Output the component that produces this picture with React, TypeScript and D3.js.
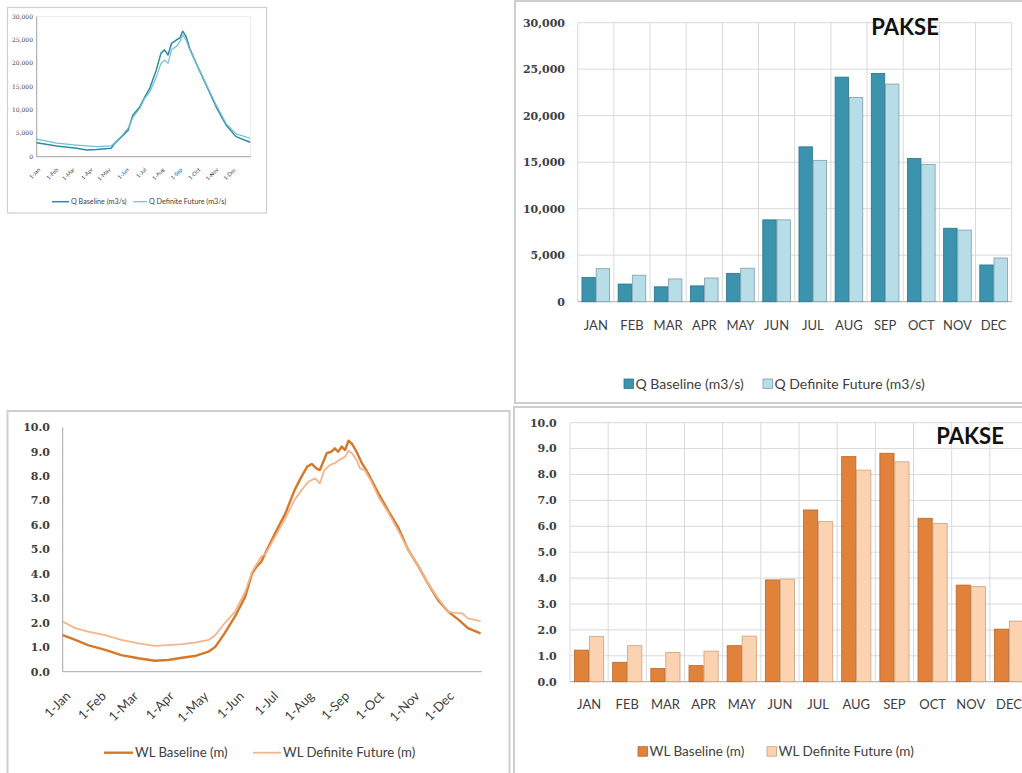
import React from "react";
import * as d3 from "d3";

// ---------- DATA ----------
const MONTHS = ["JAN", "FEB", "MAR", "APR", "MAY", "JUN", "JUL", "AUG", "SEP", "OCT", "NOV", "DEC"];

const Q_BASELINE_MONTHLY = [2600, 1900, 1600, 1700, 3050, 8800, 16650, 24150, 24550, 15400, 7900, 3950];
const Q_FUTURE_MONTHLY = [3550, 2850, 2450, 2550, 3600, 8800, 15200, 21950, 23400, 14750, 7700, 4700];

const WL_BASELINE_MONTHLY = [1.22, 0.75, 0.51, 0.62, 1.39, 3.93, 6.63, 8.69, 8.82, 6.31, 3.73, 2.03];
const WL_FUTURE_MONTHLY = [1.74, 1.39, 1.13, 1.18, 1.76, 3.96, 6.18, 8.17, 8.49, 6.11, 3.67, 2.34];

const Q_TICKS = [0, 5000, 10000, 15000, 20000, 25000, 30000];
const WL_TICKS = [0, 1, 2, 3, 4, 5, 6, 7, 8, 9, 10];

const DATE_TICK_LABELS = ["1-Jan", "1-Feb", "1-Mar", "1-Apr", "1-May", "1-Jun", "1-Jul", "1-Aug", "1-Sep", "1-Oct", "1-Nov", "1-Dec"];
const DATE_TICK_DAYS = [0, 31, 59, 90, 120, 151, 181, 212, 243, 273, 304, 334];

// daily series read at sample days: [dayOfYear, value]
const Q_BASELINE_DAILY: [number, number][] = [
  [0, 3000], [34, 2300], [68, 1800], [85, 1450], [102, 1550], [127, 1800], [133, 2850], [145, 4300],
  [156, 5700], [164, 8900], [176, 10700], [184, 12700], [193, 14700], [204, 18600], [212, 22200],
  [218, 22900], [224, 21800], [230, 24300], [238, 25000], [244, 25400], [249, 26900], [255, 25700],
  [261, 23200], [272, 20000], [289, 15400], [306, 10700], [323, 6800], [340, 4300], [364, 3100],
];
const Q_FUTURE_DAILY: [number, number][] = [
  [0, 3750], [34, 2900], [68, 2500], [102, 2150], [127, 2300], [133, 3000], [145, 4450], [156, 6100],
  [164, 8400], [176, 10400], [184, 12500], [193, 13900], [204, 17100], [212, 20000], [218, 20700],
  [224, 20000], [230, 22900], [238, 23600], [244, 24600], [249, 26100], [255, 25000], [261, 22900],
  [272, 20000], [289, 15600], [306, 11100], [323, 7100], [340, 4900], [364, 3950],
];
const WL_BASELINE_DAILY: [number, number][] = [
  [0, 1.5], [11, 1.3], [22, 1.09], [37, 0.89], [51, 0.68], [66, 0.55], [80, 0.45], [92, 0.48],
  [104, 0.57], [115, 0.64], [127, 0.82], [133, 1.02], [141, 1.57], [150, 2.25], [159, 3.07],
  [165, 4.03], [169, 4.3], [173, 4.5], [177, 4.9], [185, 5.66], [194, 6.48], [202, 7.43], [208, 7.98],
  [213, 8.39], [217, 8.5], [221, 8.32], [224, 8.25], [227, 8.59], [230, 8.94], [234, 9.0], [237, 9.14],
  [240, 9.0], [243, 9.21], [246, 9.07], [249, 9.45], [252, 9.32], [256, 9.0], [260, 8.59], [266, 8.12],
  [275, 7.3], [284, 6.55], [292, 5.93], [301, 4.98], [310, 4.3], [318, 3.62], [327, 2.93], [336, 2.45],
  [345, 2.12], [353, 1.78], [364, 1.57],
];
const WL_FUTURE_DAILY: [number, number][] = [
  [0, 2.05], [11, 1.78], [22, 1.64], [37, 1.5], [51, 1.3], [66, 1.16], [80, 1.06], [92, 1.09],
  [104, 1.13], [115, 1.19], [127, 1.3], [133, 1.5], [141, 1.98], [150, 2.45], [159, 3.27], [165, 4.09],
  [173, 4.71], [177, 4.84], [185, 5.52], [194, 6.28], [202, 7.03], [208, 7.43], [214, 7.77], [220, 7.91],
  [224, 7.71], [228, 8.25], [233, 8.46], [237, 8.53], [241, 8.66], [246, 8.8], [249, 9.04], [252, 8.94],
  [256, 8.66], [259, 8.32], [263, 8.25], [269, 7.77], [275, 7.16], [284, 6.48], [292, 5.8], [301, 4.98],
  [310, 4.3], [318, 3.62], [327, 3.0], [336, 2.45], [342, 2.41], [348, 2.39], [353, 2.18], [364, 2.07],
];

// ---------- STYLE ----------
const SANS = "Lato, 'Open Sans', sans-serif";
const SERIF = "'DejaVu Serif', serif";
const TXT = "#404040";
const GRID = "#d9d9d9";
const BORDER = "#cfcfcf";

const Q_BASE_FILL = "#3b93ad";
const Q_FUT_FILL = "#b7dde8";
const WL_BASE_FILL = "#e0823a";
const WL_FUT_FILL = "#fcd3b0";

type BarProps = {
  left: number; right: number; top: number; bottom: number; yMax: number; ticks: number[];
  fmt: (v: number) => string; base: number[]; fut: number[];
  fillB: string; fillF: string; strokeB: string; strokeF: string;
  labelRight: number; monthY: number; legendY: number; legFont: number;
  legB: [number, string]; legF: [number, string]; title: [number, number];
};

function BarChart(p: BarProps) {
  const x0 = d3.scaleBand<string>().domain(MONTHS).range([p.left, p.right]).padding(0);
  const x1 = d3.scaleBand<string>().domain(["b", "f"]).range([0, x0.bandwidth()]).paddingInner(0.05).paddingOuter(0.3);
  const y = d3.scaleLinear().domain([0, p.yMax]).range([p.bottom, p.top]);
  const bounds = MONTHS.map((m) => x0(m) as number).concat([p.right]);
  return (
    <g>
      {p.ticks.map((t) => (
        <line key={"h" + t} x1={p.left} x2={p.right} y1={y(t)} y2={y(t)} stroke={t === 0 ? "#a6a6a6" : GRID} strokeWidth={1} />
      ))}
      {bounds.map((bx, i) => (
        <line key={"v" + i} x1={bx} x2={bx} y1={p.top} y2={p.bottom} stroke={GRID} strokeWidth={1} />
      ))}
      {p.ticks.map((t) => (
        <text key={"t" + t} x={p.labelRight} y={y(t)} dy="0.35em" textAnchor="end" fontFamily={SERIF} fontWeight="bold" fontSize={11} fill={TXT}>
          {p.fmt(t)}
        </text>
      ))}
      {MONTHS.map((m, i) => (
        <g key={m}>
          <rect x={(x0(m) as number) + (x1("b") as number)} y={y(p.base[i])} width={x1.bandwidth()} height={p.bottom - y(p.base[i])}
            fill={p.fillB} stroke={p.strokeB} strokeWidth={0.8} />
          <rect x={(x0(m) as number) + (x1("f") as number)} y={y(p.fut[i])} width={x1.bandwidth()} height={p.bottom - y(p.fut[i])}
            fill={p.fillF} stroke={p.strokeF} strokeWidth={0.8} />
          <text x={(x0(m) as number) + x0.bandwidth() / 2} y={p.monthY} dy="0.35em" textAnchor="middle" fontFamily={SANS} fontSize={13} fill={TXT}>
            {m}
          </text>
        </g>
      ))}
      <text x={p.title[0]} y={p.title[1]} textAnchor="middle" fontFamily={SANS} fontWeight="bold" fontSize={22} fill="#111">PAKSE</text>
      <rect x={p.legB[0]} y={p.legendY - 5} width={9.5} height={9.5} fill={p.fillB} stroke={p.strokeB} strokeWidth={0.8} />
      <text x={p.legB[0] + 11.5} y={p.legendY} dy="0.35em" fontFamily={SANS} fontSize={p.legFont} fill={TXT}>{p.legB[1]}</text>
      <rect x={p.legF[0]} y={p.legendY - 5} width={9.5} height={9.5} fill={p.fillF} stroke={p.strokeF} strokeWidth={0.8} />
      <text x={p.legF[0] + 11.5} y={p.legendY} dy="0.35em" fontFamily={SANS} fontSize={p.legFont} fill={TXT}>{p.legF[1]}</text>
    </g>
  );
}

type LineProps = {
  left: number; right: number; top: number; bottom: number; yMax: number; ticks: number[];
  fmt: (v: number) => string; base: [number, number][]; fut: [number, number][];
  colB: string; colF: string; wB: number; wF: number;
  labelRight: number; tickFont: number; tickWeight: string; dateFont: number; dateOffset: [number, number];
  legendY: number; legB: [number, number, string]; legF: [number, number, string]; legFont: number;
  frame: boolean;
};

function LineChart(p: LineProps) {
  const x = d3.scaleLinear().domain([0, 365]).range([p.left, p.right]);
  const y = d3.scaleLinear().domain([0, p.yMax]).range([p.bottom, p.top]);
  const line = d3.line<[number, number]>().x((d) => x(d[0])).y((d) => y(d[1]));
  return (
    <g>
      {p.frame ? (
        <rect x={p.left} y={p.top} width={p.right - p.left} height={p.bottom - p.top} fill="none" stroke="#e6e6e6" strokeWidth={0.8} />
      ) : null}
      <line x1={p.left} x2={p.left} y1={p.top} y2={p.bottom} stroke="#a6a6a6" strokeWidth={1} />
      <line x1={p.left} x2={p.right} y1={p.bottom} y2={p.bottom} stroke="#a6a6a6" strokeWidth={1} />
      {p.ticks.map((t) => (
        <text key={"t" + t} x={p.labelRight} y={y(t)} dy="0.35em" textAnchor="end" fontFamily={SERIF} fontWeight={p.tickWeight} fontSize={p.tickFont} fill={TXT}>
          {p.fmt(t)}
        </text>
      ))}
      {DATE_TICK_DAYS.map((d, i) => (
        <text key={"d" + d} transform={`translate(${x(d) + p.dateOffset[0]},${p.bottom + p.dateOffset[1]}) rotate(-45)`}
          textAnchor="end" dy="0.35em" fontFamily={SANS} fontSize={p.dateFont} fill={TXT}>
          {DATE_TICK_LABELS[i]}
        </text>
      ))}
      <path d={line(p.base) as string} fill="none" stroke={p.colB} strokeWidth={p.wB} strokeLinejoin="round" />
      <path d={line(p.fut) as string} fill="none" stroke={p.colF} strokeWidth={p.wF} strokeLinejoin="round" />
      <line x1={p.legB[0]} x2={p.legB[1]} y1={p.legendY} y2={p.legendY} stroke={p.colB} strokeWidth={p.wB} />
      <text x={p.legB[1] + 2} y={p.legendY} dy="0.35em" fontFamily={SANS} fontSize={p.legFont} fill={TXT}>{p.legB[2]}</text>
      <line x1={p.legF[0]} x2={p.legF[1]} y1={p.legendY} y2={p.legendY} stroke={p.colF} strokeWidth={p.wF} />
      <text x={p.legF[1] + 2} y={p.legendY} dy="0.35em" fontFamily={SANS} fontSize={p.legFont} fill={TXT}>{p.legF[2]}</text>
    </g>
  );
}

const fmtQ = d3.format(",");
const fmtWL = d3.format(".1f");

export default function App() {
  return (
    <svg width={1022} height={773} style={{ position: "absolute", left: 0, top: 0, background: "#fff" }}>
      <rect x={0} y={0} width={1022} height={773} fill="#fff" />
      {/* panel frames */}
      <rect x={7.5} y={7.5} width={259} height={205.5} fill="#fff" stroke={BORDER} strokeWidth={1.2} />
      <rect x={515} y={1} width={520} height={402} fill="#fff" stroke={BORDER} strokeWidth={2} />
      <rect x={7.5} y={411} width={502} height={370} fill="#fff" stroke={BORDER} strokeWidth={2} />
      <rect x={514} y={407} width={520} height={380} fill="#fff" stroke={BORDER} strokeWidth={2} />

      {/* top-left small discharge hydrograph */}
      <LineChart left={36.7} right={250.7} top={16.7} bottom={156.7} yMax={30000} ticks={Q_TICKS} fmt={fmtQ}
        base={Q_BASELINE_DAILY} fut={Q_FUTURE_DAILY} colB="#2f8aa3" colF="#6fc0d2" wB={1.5} wF={1.2}
        labelRight={33} tickFont={6} tickWeight="normal" dateFont={5.5} dateOffset={[2.5, 12]}
        legendY={201.7} legB={[52, 69, "Q Baseline (m3/s)"]} legF={[133, 147, "Q Definite Future (m3/s)"]} legFont={7.2}
        frame={true} />

      {/* top-right Q bars */}
      <BarChart left={577.7} right={1011.7} top={22.7} bottom={301.7} yMax={30000} ticks={Q_TICKS} fmt={fmtQ}
        base={Q_BASELINE_MONTHLY} fut={Q_FUTURE_MONTHLY}
        fillB={Q_BASE_FILL} fillF={Q_FUT_FILL} strokeB="#2a7489" strokeF="#7f9ea8"
        labelRight={565} monthY={325} legendY={384} legFont={14}
        legB={[624, "Q Baseline (m3/s)"]} legF={[763, "Q Definite Future (m3/s)"]} title={[905, 35]} />

      {/* bottom-left WL hydrograph */}
      <LineChart left={62.7} right={481.7} top={427.3} bottom={671.7} yMax={10} ticks={WL_TICKS} fmt={fmtWL}
        base={WL_BASELINE_DAILY} fut={WL_FUTURE_DAILY} colB="#d5782c" colF="#f3b58c" wB={2.4} wF={1.8}
        labelRight={50} tickFont={11} tickWeight="bold" dateFont={13} dateOffset={[5.5, 22]}
        legendY={752.7} legB={[104, 133, "WL Baseline (m)"]} legF={[253, 281, "WL Definite Future (m)"]} legFont={13.2}
        frame={false} />

      {/* bottom-right WL bars */}
      <BarChart left={570} right={570 + 12 * 38.17} top={422.7} bottom={681.7} yMax={10} ticks={WL_TICKS} fmt={fmtWL}
        base={WL_BASELINE_MONTHLY} fut={WL_FUTURE_MONTHLY}
        fillB={WL_BASE_FILL} fillF={WL_FUT_FILL} strokeB="#b8662a" strokeF="#c9a07e"
        labelRight={556.7} monthY={704} legendY={751.7} legFont={13.5}
        legB={[638, "WL Baseline (m)"]} legF={[767, "WL Definite Future (m)"]} title={[970, 444]} />
    </svg>
  );
}
